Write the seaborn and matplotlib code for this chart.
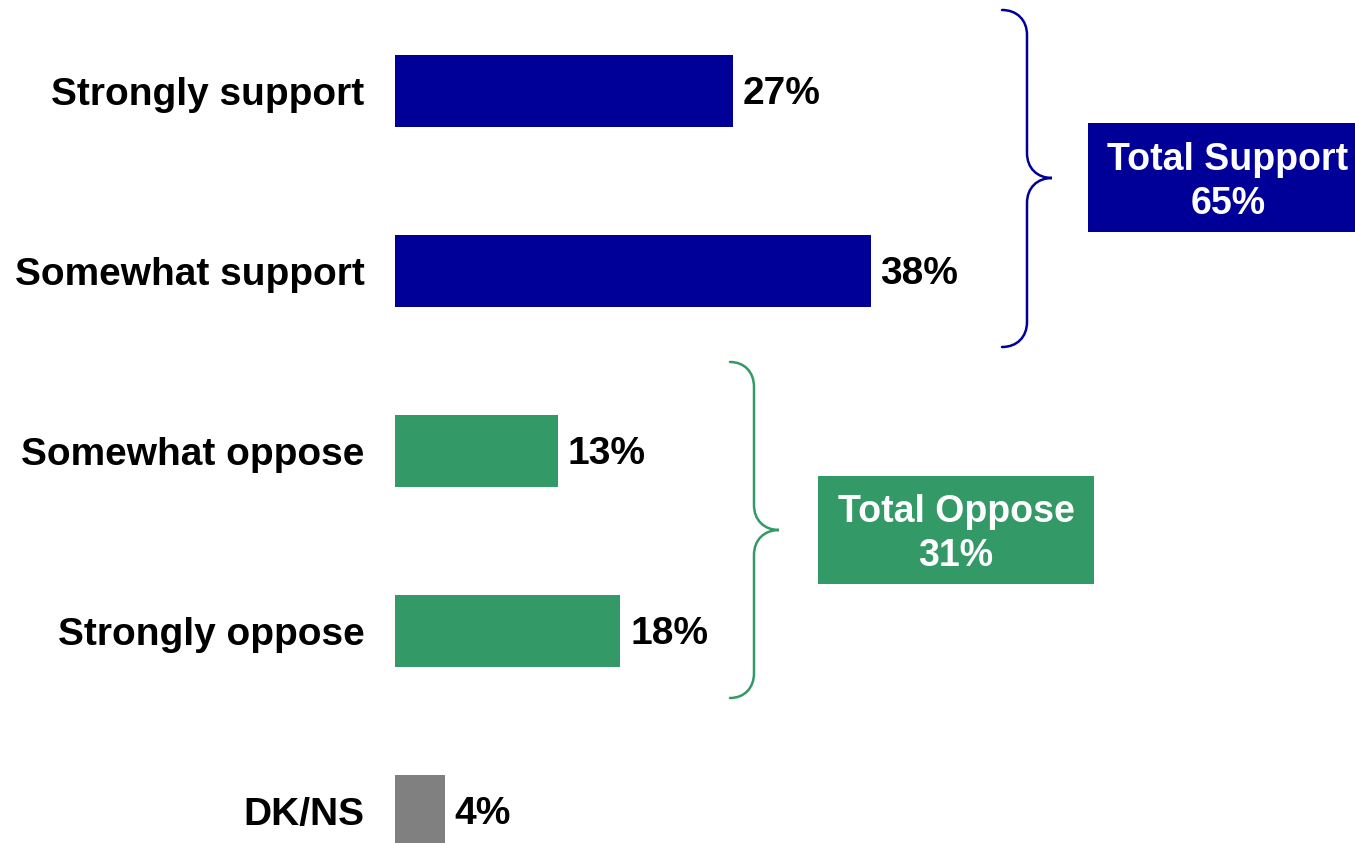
import matplotlib
matplotlib.use('Agg')
import matplotlib.pyplot as plt
import seaborn as sns
import pandas as pd
from matplotlib.patches import Rectangle, PathPatch
from matplotlib.path import Path

# --- Data ---
categories = ['Strongly support', 'Somewhat support', 'Somewhat oppose', 'Strongly oppose', 'DK/NS']
values = [27, 38, 13, 18, 4]
bar_colors = ['#000099', '#000099', '#339966', '#339966', '#808080']
total_labels = ['Total Support\n65%', 'Total Oppose\n31%']

df = pd.DataFrame({'category': categories, 'value': values})

sns.set_style('white')
plt.rcParams['font.family'] = ['Liberation Sans', 'DejaVu Sans']

W, H = 1355, 843
fig = plt.figure(figsize=(W / 100, H / 100), dpi=100)

# main bar axes: x=0 at px 395, 12.52 px per percent, 180 px per row
x0_px, px_per_pct, row_px, first_row_px = 395, 12.52, 180, 91
ax = fig.add_axes([x0_px / W, 0, (W - x0_px) / W, 1])
sns.barplot(data=df, x='value', y='category', hue='category', palette=bar_colors,
            orient='h', width=0.4, legend=False, ax=ax, saturation=1,
            linewidth=0, edgecolor='none')
ax.set_xlim(0, (W - x0_px) / px_per_pct)
ax.set_ylim((H - first_row_px) / row_px, -first_row_px / row_px)
ax.set_xlabel('')
ax.set_ylabel('')
ax.set_xticks([])
ax.tick_params(axis='y', length=0, pad=22, labelcolor='black')
for lbl in ax.get_yticklabels():
    lbl.set_fontsize(28)
    lbl.set_fontweight('bold')
for sp in ax.spines.values():
    sp.set_visible(False)
for cont in ax.containers:
    anns = ax.bar_label(cont, labels=[f'{v:.0f}%' for v in cont.datavalues],
                        padding=7, fontsize=28, fontweight='bold', color='black')
    for a in anns:
        a.xyann = (7, -2)

# overlay axes in pixel space for braces and total boxes
ov = fig.add_axes([0, 0, 1, 1])
ov.set_xlim(0, W)
ov.set_ylim(H, 0)
ov.axis('off')
ov.patch.set_alpha(0)


def brace(axis, xe, xs, xt, ytop, ymid, ybot, color, r=25):
    verts = [(xe, ytop),
             (xe + (xs - xe) * 0.6, ytop), (xs, ytop + r * 0.4), (xs, ytop + r),
             (xs, ymid - r),
             (xs, ymid - r * 0.4), (xs + (xt - xs) * 0.4, ymid), (xt, ymid),
             (xs + (xt - xs) * 0.4, ymid), (xs, ymid + r * 0.4), (xs, ymid + r),
             (xs, ybot - r),
             (xs, ybot - r * 0.4), (xe + (xs - xe) * 0.6, ybot), (xe, ybot)]
    codes = [Path.MOVETO] + [Path.CURVE4] * 3 + [Path.LINETO] + [Path.CURVE4] * 6 + \
            [Path.LINETO] + [Path.CURVE4] * 3
    axis.add_patch(PathPatch(Path(verts, codes), fill=False, edgecolor=color,
                             lw=1.8, capstyle='round'))


brace(ov, 1002, 1027, 1052, 10, 178, 347, '#000099')
brace(ov, 730, 754, 779, 362, 530, 698, '#339966')

# total boxes
ov.add_patch(Rectangle((1088, 123), W - 1088, 109, facecolor='#000099', edgecolor='none'))
ov.text(1228, 182, total_labels[0], ha='center', va='center', color='white',
        fontsize=27, fontweight='bold', linespacing=1.3)
ov.add_patch(Rectangle((818, 476), 276, 108, facecolor='#339966', edgecolor='none'))
ov.text(956, 534, total_labels[1], ha='center', va='center', color='white',
        fontsize=27, fontweight='bold', linespacing=1.3)

fig.savefig('out.png', dpi=100)
